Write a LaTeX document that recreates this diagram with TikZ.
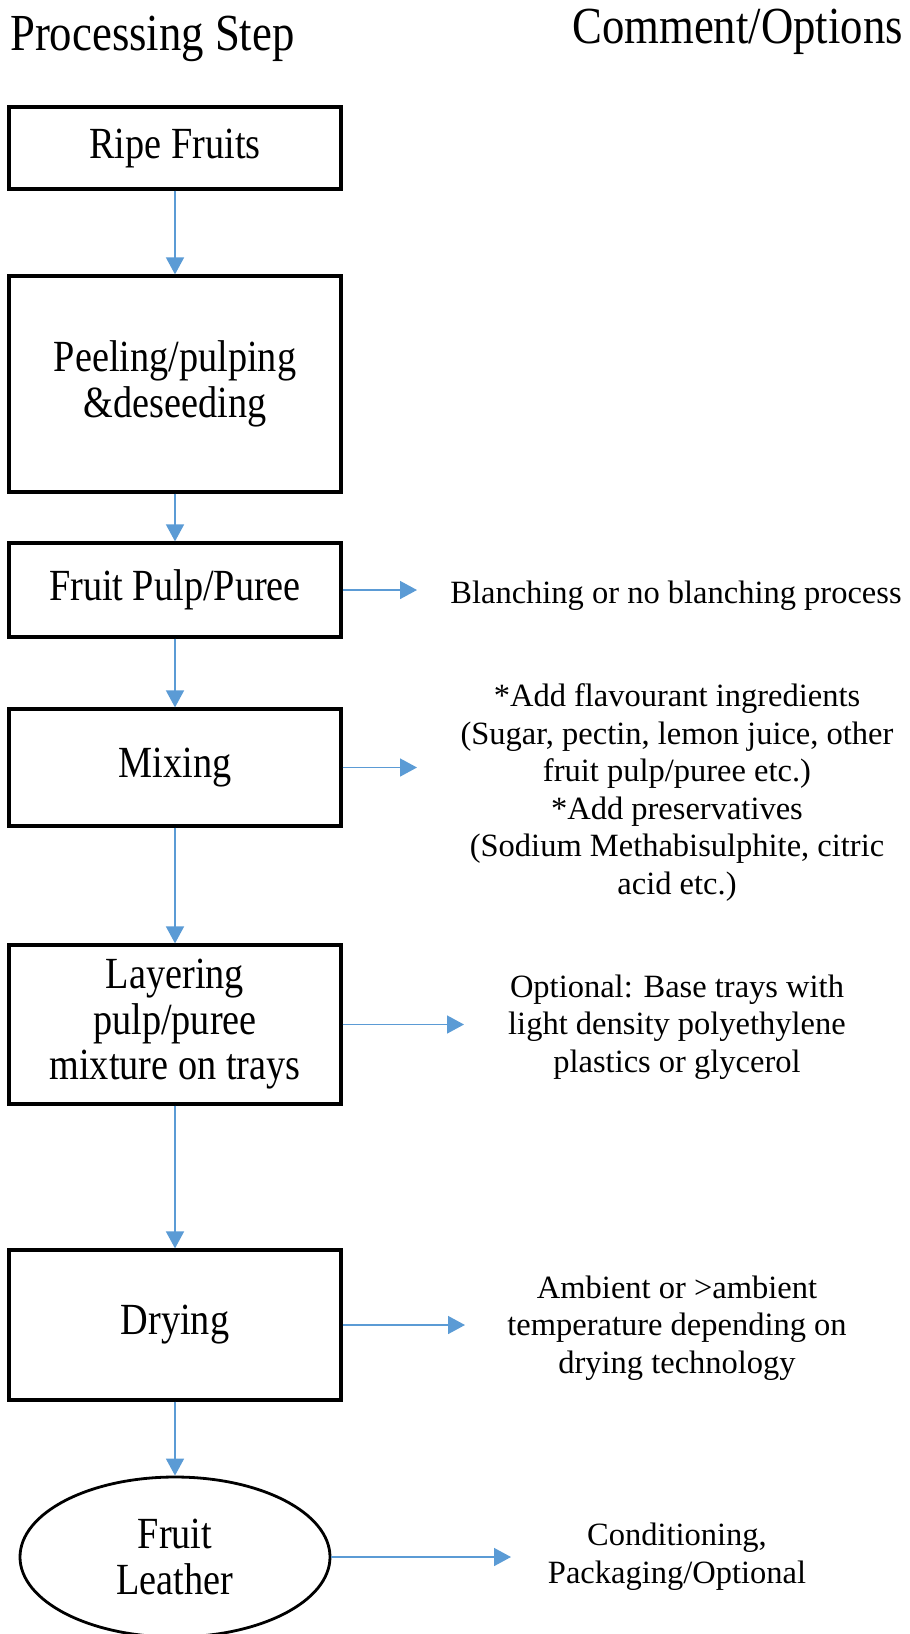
\documentclass[tikz,border=0pt]{standalone}
\usepackage{fontspec}
\setmainfont{Liberation Serif}
\newfontfamily\stepfont{Liberation Serif}[FakeStretch=0.86]
\usetikzlibrary{arrows.meta,shapes.geometric}

\definecolor{flowblue}{HTML}{5B9BD5}

\tikzset{
  stepbox/.style={draw=black,line width=3.2pt,minimum width=332pt,inner sep=0pt,align=center,font=\stepfont\fontsize{44.5}{45.5}\selectfont},
  heading/.style={inner sep=0pt,font=\stepfont\fontsize{52}{56}\selectfont},
  note/.style={inner sep=0pt,align=center,font=\fontsize{32.5}{37.5}\selectfont},
  flow/.style={draw=flowblue,line width=1.6pt,-{Triangle[width=18pt,length=17pt]},fill=flowblue}
}

\begin{document}
\begin{tikzpicture}[x=1pt,y=-1pt]
  \useasboundingbox (0,0) rectangle (910,1634);

  \node[heading,anchor=base west] (lefthead) at (10,50) {Processing Step};
  \node[heading,anchor=base east] (righthead) at (903,43) {Comment/Options};

  % processing steps
  \node[stepbox,minimum height=82pt] (ripe) at (175,148) {Ripe Fruits};
  \node[stepbox,minimum height=216pt] (peel) at (175,384) {Peeling/pulping\\\&deseeding};
  \node[stepbox,minimum height=94pt] (pulp) at (175,590) {Fruit Pulp/Puree};
  \node[stepbox,minimum height=117pt] (mix) at (175,767.5) {Mixing};
  \node[stepbox,minimum height=159pt] (layer) at (175,1024.5) {Layering\\pulp/puree\\mixture on trays};
  \node[stepbox,minimum height=150pt] (dry) at (175,1325) {Drying};
  \node[stepbox,ellipse,line width=2.8pt,minimum width=310pt,minimum height=160pt] (leather) at (175,1557) {Fruit\\Leather};

  % comments (base = last line)
  \node[note,anchor=base] (blanch) at (676,603) {Blanching or no blanching process};
  \node[note,anchor=base] (addins) at (677,894) {*Add flavourant ingredients\\(Sugar, pectin, lemon juice, other\\fruit pulp/puree etc.)\\*Add preservatives\\(Sodium Methabisulphite, citric\\acid etc.)};
  \node[note,anchor=base] (trays) at (677,1072) {Optional: Base trays with\\light density polyethylene\\plastics or glycerol};
  \node[note,anchor=base] (temp) at (677,1373) {Ambient or >ambient\\temperature depending on\\drying technology};
  \node[note,anchor=base] (pack) at (677,1583) {Conditioning,\\Packaging/Optional};

  \coordinate (pulptip) at (417,590);
  \coordinate (mixtip) at (417,767.5);
  \coordinate (layertip) at (464,1024.5);
  \coordinate (drytip) at (465,1325);
  \coordinate (leathertip) at (511,1557);

  \draw[flow] (ripe.south) -- (peel.north);
  \draw[flow] (peel.south) -- (pulp.north);
  \draw[flow] (pulp.south) -- (mix.north);
  \draw[flow] (mix.south) -- (layer.north);
  \draw[flow] (layer.south) -- (dry.north);
  \draw[flow] (dry.south) -- (leather.north);

  \draw[flow] (pulp.east) -- (pulptip);
  \draw[flow] (mix.east) -- (mixtip);
  \draw[flow] (layer.east) -- (layertip);
  \draw[flow] (dry.east) -- (drytip);
  \draw[flow] (leather.east) -- (leathertip);
\end{tikzpicture}
\end{document}
